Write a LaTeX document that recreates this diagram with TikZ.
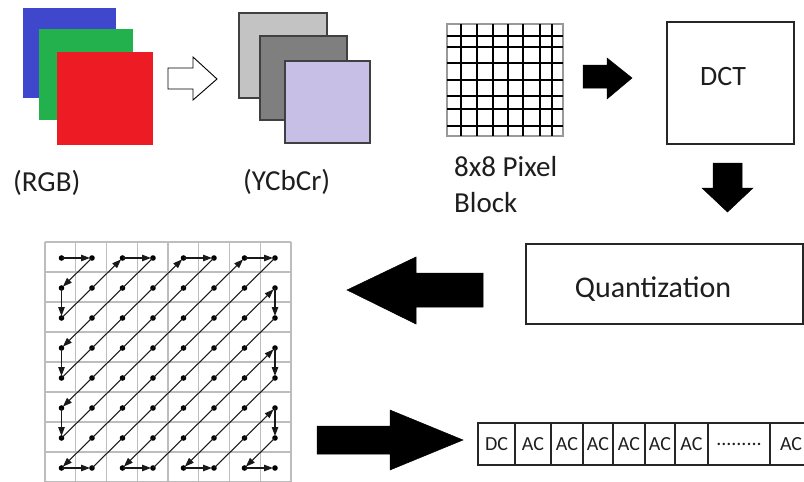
\documentclass[tikz,border=0pt]{standalone}
\usepackage{fontspec}
\setmainfont{Carlito}
\usetikzlibrary{arrows.meta}
\definecolor{pblue}{HTML}{3F48CC}
\definecolor{pgreen}{HTML}{22B14C}
\definecolor{pred}{HTML}{ED1C24}
\definecolor{plgray}{HTML}{C3C3C3}
\definecolor{pdgray}{HTML}{7F7F7F}
\definecolor{plav}{HTML}{C8BFE7}
\definecolor{gridgray}{HTML}{BDBDBD}
\definecolor{txt}{HTML}{1E1E1E}
\tikzset{
  sq/.style={anchor=north west, inner sep=0pt, outer sep=0pt},
  graysq/.style={sq, draw=black!75, line width=1.2pt},
  lbl/.style={anchor=west, inner sep=0pt, text=txt, font=\fontsize{29}{34}\selectfont},
  procbox/.style={draw=black!85, line width=1.3pt, inner sep=0pt, text=txt},
  blockarrow/.style={fill=black, draw=black, line width=0.5pt, line join=miter},
  cell/.style={draw=black!85, line width=1.2pt, inner sep=0pt, outer sep=0pt,
    minimum height=42, anchor=west, text=txt, font=\fontsize{20}{23}\selectfont},
  zz/.style={line width=1.05pt, draw=black!90,
    -{Triangle[length=9pt,width=6.5pt]}, shorten >=2pt},
}
\begin{document}
\begin{tikzpicture}[x=1pt,y=-1pt]
\useasboundingbox (0,0) rectangle (804,482);

% RGB planes
\node[sq, fill=pblue, minimum width=93, minimum height=90] (blue) at (23,8) {};
\node[sq, fill=pgreen, minimum width=94, minimum height=91] (green) at (39,29) {};
\node[sq, fill=pred, minimum width=96, minimum height=93] (red) at (57,52) {};
\node[lbl] (rgbl) at (13,183) {(RGB)};

% hollow arrow
\draw[line width=0.9pt, fill=white, line join=miter]
  (168,68) -- (193,68) -- (193,57) -- (217,79) -- (193,100) -- (193,89) -- (168,89) -- cycle;

% YCbCr planes
\node[graysq, fill=plgray, minimum width=88, minimum height=85] (ysq) at (239,13) {};
\node[graysq, fill=pdgray, minimum width=87, minimum height=84] (cbsq) at (260,36) {};
\node[graysq, fill=plav, minimum width=85, minimum height=82] (crsq) at (285,61) {};
\node[lbl] (ycbcrl) at (243,182) {(YCbCr)};

% 8x8 pixel block
\draw[black!40, line width=1.2pt] (447,24) rectangle (563,136);
\foreach \xx in {461,477,493,508,523,540,552}
  \draw[black, line width=1.3pt] (\xx,24) -- (\xx,136);
\foreach \yy in {36,47,63,80,96,109,126}
  \draw[black, line width=1.3pt] (447,\yy) -- (563,\yy);
\node[lbl] (pixl) at (454,167) {8x8 Pixel};
\node[lbl] (blockl) at (454,203) {Block};

% arrow to DCT
\draw[blockarrow] (583,65) -- (607,65) -- (607,58) -- (632,78) -- (607,99) -- (607,88) -- (583,88) -- cycle;

% DCT
\node[procbox, minimum width=127, minimum height=122] (dct) at (730.5,83) {};
\node[text=txt, font=\fontsize{28}{33}\selectfont, inner sep=0pt] (dctt) at (723,77) {DCT};

% down arrow
\draw[blockarrow] (713,163) -- (742,163) -- (742,188) -- (753,188) -- (727.5,212) -- (702,188) -- (713,188) -- cycle;

% Quantization
\node[procbox, minimum width=277, minimum height=80] (quant) at (664.5,284) {};
\node[text=txt, font=\fontsize{30}{35}\selectfont, inner sep=0pt] (quantt) at (653,289) {Quantization};

% left arrow
\draw[blockarrow] (483,273) -- (416,273) -- (416,257) -- (347,290) -- (416,324) -- (416,307) -- (483,307) -- cycle;

% zigzag grid
\begin{scope}
\clip (40,238) rectangle (300,482);
\foreach \k in {0,...,8}
  \draw[gridgray, line width=1.3pt] ({45+30.75*\k},242) -- ({45+30.75*\k},482);
\foreach \k in {0,...,8}
  \draw[gridgray, line width=1.3pt] (45,{242+30*\k}) -- (291,{242+30*\k});
\end{scope}
\foreach \i in {0,...,7}
  \foreach \j in {0,...,7}
    \coordinate (z\i\j) at ({61.5+30.5*\i},{258+30*\j});
\foreach \i in {0,...,7}
  \foreach \j in {0,...,7}
    \fill[black] (z\i\j) circle (2.8);
\draw[zz] (z00) -- (z10);
\draw[zz] (z10) -- (z01);
\draw[zz] (z01) -- (z02);
\draw[zz] (z02) -- (z20);
\draw[zz] (z20) -- (z30);
\draw[zz] (z30) -- (z03);
\draw[zz] (z03) -- (z04);
\draw[zz] (z04) -- (z40);
\draw[zz] (z40) -- (z50);
\draw[zz] (z50) -- (z05);
\draw[zz] (z05) -- (z06);
\draw[zz] (z06) -- (z60);
\draw[zz] (z60) -- (z70);
\draw[zz] (z70) -- (z07);
\draw[zz] (z07) -- (z17);
\draw[zz] (z17) -- (z71);
\draw[zz] (z71) -- (z72);
\draw[zz] (z72) -- (z27);
\draw[zz] (z27) -- (z37);
\draw[zz] (z37) -- (z73);
\draw[zz] (z73) -- (z74);
\draw[zz] (z74) -- (z47);
\draw[zz] (z47) -- (z57);
\draw[zz] (z57) -- (z75);
\draw[zz] (z75) -- (z76);
\draw[zz] (z76) -- (z67);
\draw[zz] (z67) -- (z77);

% right arrow to sequence
\draw[blockarrow] (317,426) -- (390,426) -- (390,410) -- (463,440) -- (390,470) -- (390,454) -- (317,454) -- cycle;

% coefficient sequence
\node[cell, minimum width=37] (s1) at (478,444) {DC};
\node[cell, minimum width=36] (s2) at (s1.east) {AC};
\node[cell, minimum width=32] (s3) at (s2.east) {AC};
\node[cell, minimum width=30] (s4) at (s3.east) {AC};
\node[cell, minimum width=32] (s5) at (s4.east) {AC};
\node[cell, minimum width=30] (s6) at (s5.east) {AC};
\node[cell, minimum width=33] (s7) at (s6.east) {AC};
\node[cell, minimum width=62] (s8) at (s7.east) {.........};
\node[cell, minimum width=0, inner xsep=10pt] (s9) at (s8.east) {AC};
\end{tikzpicture}
\end{document}
